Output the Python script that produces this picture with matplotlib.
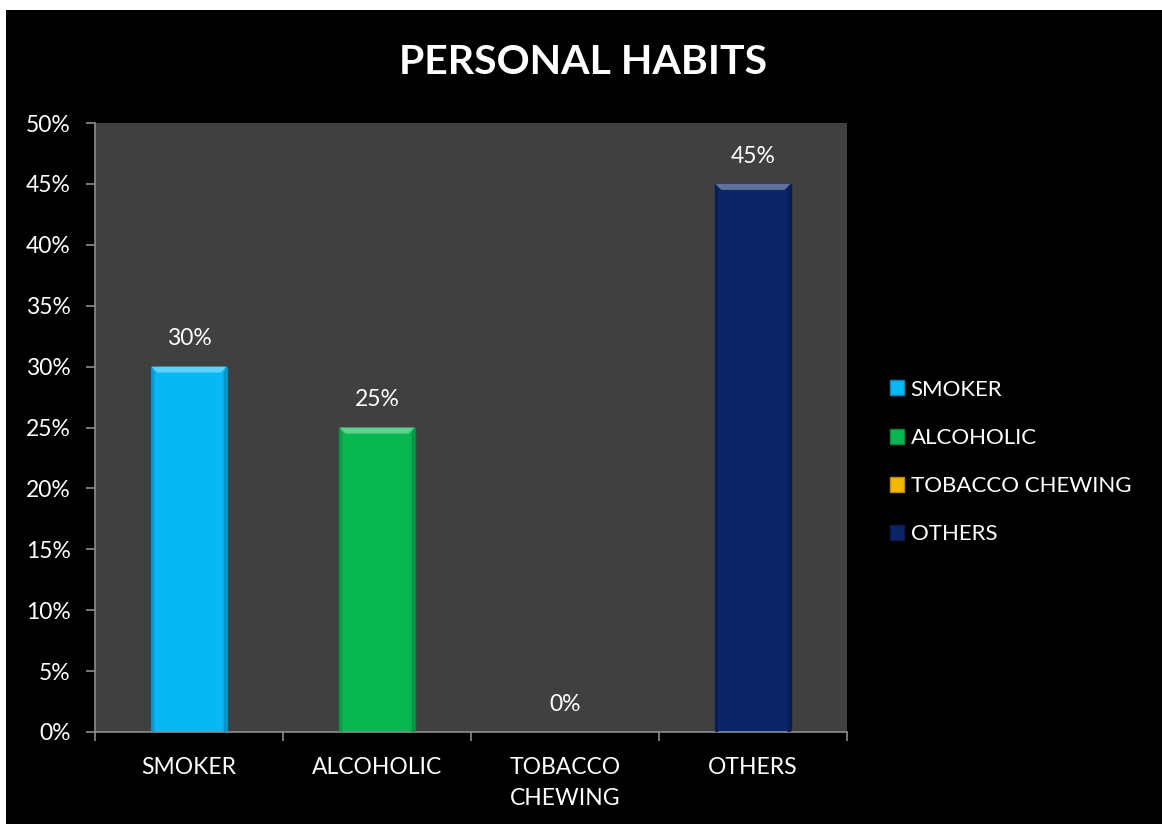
import matplotlib
matplotlib.use("Agg")
import matplotlib.pyplot as plt
from matplotlib.patches import Rectangle, Polygon
from matplotlib.ticker import FuncFormatter, MultipleLocator
import matplotlib.colors as mcolors

plt.rcParams['font.family'] = ['Lato', 'DejaVu Sans']

categories = ['SMOKER', 'ALCOHOLIC', 'TOBACCO CHEWING', 'OTHERS']
tick_labels = ['SMOKER', 'ALCOHOLIC', 'TOBACCO\nCHEWING', 'OTHERS']
values = [30, 25, 0, 45]
colors = ['#08B8F4', '#07B852', '#F5B800', '#0C2468']


def shade(c, f):
    r, g, b = mcolors.to_rgb(c)
    if f > 1:
        k = f - 1
        return (r + (1 - r) * k, g + (1 - g) * k, b + (1 - b) * k)
    return (r * f, g * f, b * f)


fig = plt.figure(figsize=(11.62, 8.24), dpi=100, facecolor='white')
fig.patches.append(Rectangle((6 / 1162, 0), 1, 1 - 10 / 824, transform=fig.transFigure,
                             facecolor='black', edgecolor='none', zorder=-1))

ax = fig.add_axes([95 / 1162, 92 / 824, 752 / 1162, 609 / 824])
ax.set_zorder(1)
ax.set_facecolor('#404040')

x = list(range(len(categories)))
bars = ax.bar(x, values, width=0.4, color=colors, edgecolor=[shade(c, 0.75) for c in colors],
              linewidth=1, zorder=2)

ax.set_xlim(-0.5, len(categories) - 0.5)
ax.set_ylim(0, 50)
ax.yaxis.set_major_locator(MultipleLocator(5))
ax.yaxis.set_major_formatter(FuncFormatter(lambda v, p: f"{v:.0f}%"))

# bevel on the top of each bar
fig.canvas.draw()
inv = ax.transData.inverted()
p0 = inv.transform(ax.transData.transform((0, 0)))
p1 = inv.transform(ax.transData.transform((0, 0)) + [6, 6])
bx, by = p1[0] - p0[0], p1[1] - p0[1]
for bar, c in zip(bars, colors):
    h = bar.get_height()
    if h <= 0:
        continue
    x0, x1 = bar.get_x(), bar.get_x() + bar.get_width()
    ax.add_patch(Polygon([(x0, h), (x1, h), (x1 - bx, h - by), (x0 + bx, h - by)],
                         closed=True, facecolor=shade(c, 1.35), edgecolor='none', zorder=3))
    ax.add_patch(Polygon([(x0, 0), (x0 + bx * 0.5, 0), (x0 + bx * 0.5, h - by), (x0, h)],
                         closed=True, facecolor=shade(c, 0.85), edgecolor='none', zorder=3))
    ax.add_patch(Polygon([(x1, 0), (x1 - bx * 0.5, 0), (x1 - bx * 0.5, h - by), (x1, h)],
                         closed=True, facecolor=shade(c, 0.8), edgecolor='none', zorder=3))

for xi, v in zip(x, values):
    ax.annotate(f"{v}%", (xi, v), xytext=(0, 20), textcoords='offset points',
                ha='center', va='center', color='white', fontsize=16.5)

for s in ['top', 'right']:
    ax.spines[s].set_visible(False)
for s in ['left', 'bottom']:
    ax.spines[s].set_color('#8C8C8C')
    ax.spines[s].set_linewidth(1.2)

ax.set_xticks(x)
ax.set_xticklabels(tick_labels, linespacing=1.6)
ax.set_xticks([i - 0.5 for i in range(len(categories) + 1)], minor=True)
ax.tick_params(axis='x', which='major', length=0, pad=18, colors='white', labelsize=16.5)
ax.tick_params(axis='x', which='minor', length=6.5, width=1.2, color='#8C8C8C')
ax.tick_params(axis='y', length=6.5, width=1.2, color='#8C8C8C', labelcolor='white',
               labelsize=16.5, pad=11)

leg = fig.legend(bars, categories, loc='center left', bbox_to_anchor=(870 / 1162, 1 - 462 / 824),
                 frameon=False, fontsize=16, labelcolor='white', labelspacing=1.27,
                 handlelength=0.65, handleheight=0.65, handletextpad=0.28)

fig.text(583 / 1162, 1 - 62 / 824, 'PERSONAL HABITS', ha='center', va='center',
         color='white', fontsize=29.5, fontweight='bold')

fig.savefig('out.png', dpi=100, facecolor=fig.get_facecolor())
